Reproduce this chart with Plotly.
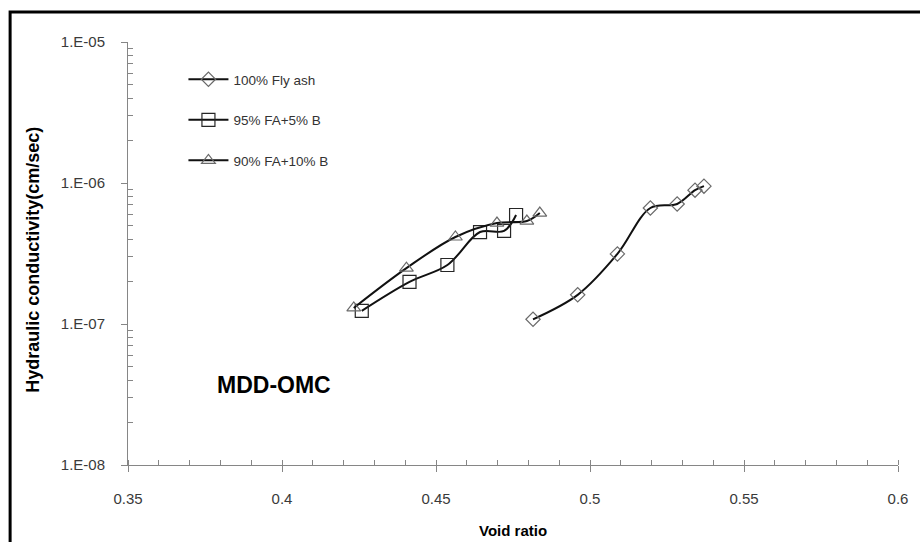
import plotly.graph_objects as go

# ---- data ----
fa100_x = [0.4815, 0.4960, 0.5089, 0.5196, 0.5283, 0.5341, 0.5370]
fa100_k = [1.08e-7, 1.61e-7, 3.14e-7, 6.65e-7, 7.10e-7, 8.90e-7, 9.50e-7]

fa95_x = [0.4259, 0.4414, 0.4537, 0.4643, 0.4721, 0.4760]
fa95_k = [1.24e-7, 1.99e-7, 2.62e-7, 4.49e-7, 4.57e-7, 5.93e-7]

fa90_x = [0.4233, 0.4404, 0.4563, 0.4698, 0.4795, 0.4837]
fa90_k = [1.30e-7, 2.49e-7, 4.14e-7, 5.20e-7, 5.37e-7, 6.12e-7]

x_ticks = [0.35, 0.4, 0.45, 0.5, 0.55, 0.6]
x_labels = ["0.35", "0.4", "0.45", "0.5", "0.55", "0.6"]
y_ticks = [1e-8, 1e-7, 1e-6, 1e-5]
y_labels = ["1.E-08", "1.E-07", "1.E-06", "1.E-05"]
y_minor = [m * 10.0 ** e for e in (-8, -7, -6) for m in range(2, 10)]

names = ["100% Fly ash", "95% FA+5% B", "90% FA+10% B"]

TICKFONT = dict(family="Liberation Sans, Arial, sans-serif", size=15, color="#3a3a3a")

fig = go.Figure()
series = [
    (fa100_x, fa100_k, names[0], "diamond-open", 11, "#6a6a6a"),
    (fa95_x, fa95_k, names[1], "square-open", 13, "#262626"),
    (fa90_x, fa90_k, names[2], "triangle-up-open", 12, "#6a6a6a"),
]
for i, (xs, ys, nm, sym, sz, mc) in enumerate(series):
    fig.add_trace(go.Scatter(
        x=xs, y=ys, name=nm, mode="lines+markers",
        line=dict(color="#111111", width=2, shape="spline", smoothing=1.0),
        marker=dict(symbol=sym, size=sz, color=mc, line=dict(width=1.2, color=mc)),
        legendgroup=f"g{i}",
    ))

fig.update_layout(
    width=920, height=542,
    margin=dict(l=128, r=18, t=42, b=77),
    paper_bgcolor="white", plot_bgcolor="white",
    showlegend=True,
    legend=dict(x=0.072, y=0.948, xanchor="left", yanchor="top",
                bgcolor="rgba(0,0,0,0)", tracegroupgap=20, itemwidth=40,
                font=dict(family="Liberation Sans, Arial, sans-serif",
                          size=13.5, color="#333333")),
    xaxis=dict(
        range=[0.35, 0.6], tickvals=x_ticks, ticktext=x_labels,
        showgrid=False, zeroline=False, showline=True, linecolor="#868686", linewidth=1,
        ticks="outside", ticklen=6, tickcolor="#868686", tickfont=TICKFONT,
        ticklabelstandoff=14,
        minor=dict(dtick=0.01, ticks="inside", ticklen=5, tickcolor="#868686", showgrid=False),
    ),
    yaxis=dict(
        type="log", range=[-8, -5], tickvals=y_ticks, ticktext=y_labels,
        showgrid=False, zeroline=False, showline=True, linecolor="#868686", linewidth=1,
        ticks="outside", ticklen=6, tickcolor="#868686", tickfont=TICKFONT,
        ticklabelstandoff=13,
        minor=dict(tickvals=y_minor, ticks="inside", ticklen=5, tickcolor="#868686", showgrid=False),
    ),
    annotations=[
        dict(text="<b>Hydraulic conductivity(cm/sec)</b>", xref="paper", yref="paper",
             x=-0.1227, y=0.484, xanchor="center", yanchor="middle", textangle=-90, showarrow=False,
             font=dict(family="Liberation Sans, Arial, sans-serif", size=18, color="black")),
        dict(text="<b>Void ratio</b>", xref="paper", yref="paper",
             x=0.5, y=-0.1537, xanchor="center", yanchor="middle", showarrow=False,
             font=dict(family="Liberation Sans, Arial, sans-serif", size=15, color="black")),
        dict(text="<b>MDD-OMC</b>", xref="paper", yref="paper",
             x=0.19, y=0.189, xanchor="center", yanchor="middle", showarrow=False,
             font=dict(family="Liberation Sans, Arial, sans-serif", size=23, color="black")),
    ],
    shapes=[
        dict(type="rect", xref="paper", yref="paper",
             x0=-0.1531, x1=1.04, y0=-0.25, y1=1.0709,
             line=dict(color="black", width=3), fillcolor="rgba(0,0,0,0)", layer="above"),
    ],
)

fig.write_html("out.html")
